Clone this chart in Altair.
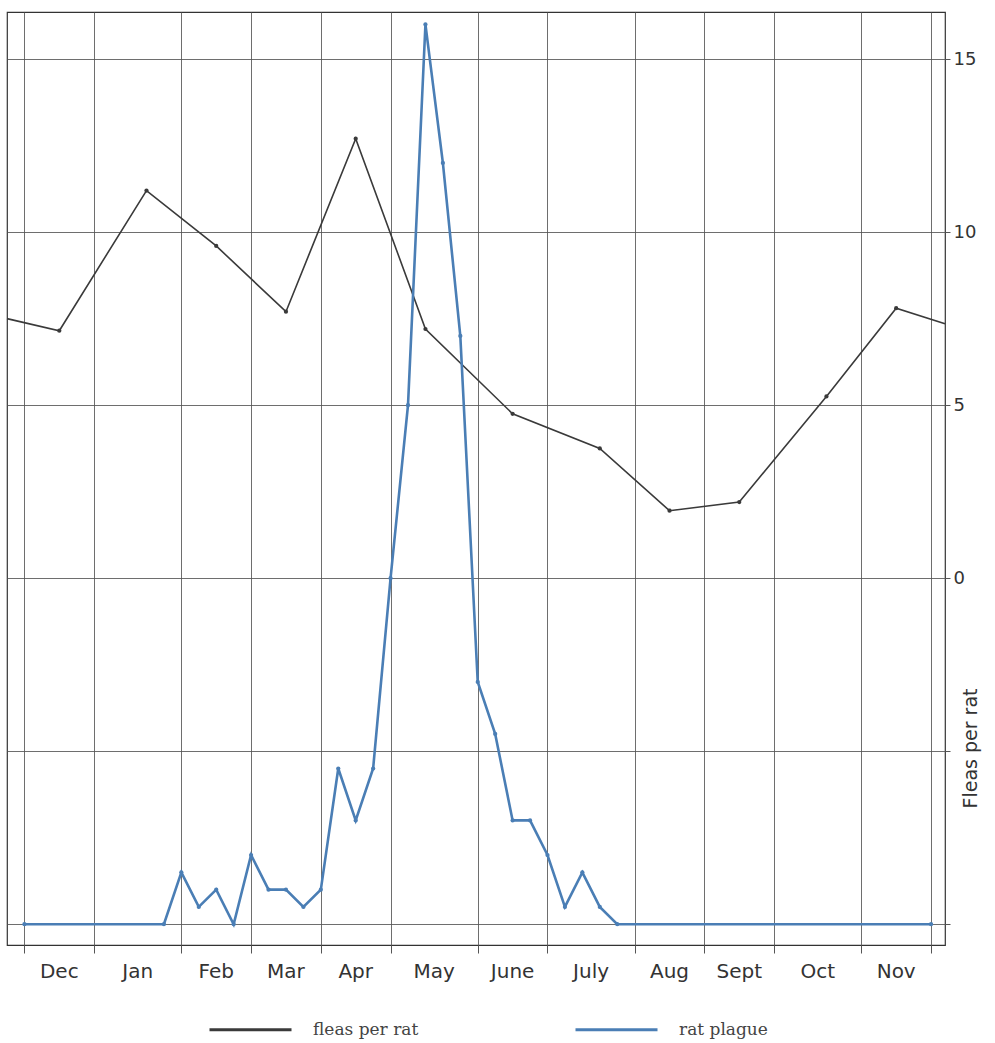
import altair as alt
import pandas as pd

# ---- data ----
month_names = ["Dec", "Jan", "Feb", "Mar", "Apr", "May", "June", "July", "Aug", "Sept", "Oct", "Nov"]
month_bounds = [0, 4, 9, 13, 17, 21, 26, 30, 35, 39, 43, 48, 52]   # week at which each month starts

flea_weeks = [-1, 2, 7, 11, 15, 19, 23, 28, 33, 37, 41, 46, 50, 52.8]
fleas_per_rat = [7.5, 7.15, 11.2, 9.6, 7.7, 12.7, 7.2, 4.75, 3.75, 1.95, 2.2, 5.25, 7.8, 7.35]

plague_weeks = [0] + list(range(8, 35)) + [52]
rat_plague = [0, 0, 3, 1, 2, 0, 4, 2, 2, 1, 2, 9, 6, 9, 20, 30, 52, 44,
              34, 14, 11, 6, 6, 4, 1, 3, 1, 0, 0]

flea_ticks = [-10, -5, 0, 5, 10, 15]

BLACK = "#3a3a3a"
BLUE = "#4a7eb5"
GRID = "#555555"
SANS = "DejaVu Sans"
SERIF = "DejaVu Serif"

flea_df = pd.DataFrame({"week": flea_weeks, "value": fleas_per_rat, "series": "fleas per rat"})
plague_df = pd.DataFrame({"week": plague_weeks, "value": rat_plague, "series": "rat plague"})
months_df = pd.DataFrame({"month": month_names, "start": month_bounds[:-1], "end": month_bounds[1:]})

x_scale = alt.Scale(domain=[-1, 52.8], nice=False, zero=False)

color = alt.Color(
    "series:N",
    scale=alt.Scale(domain=["fleas per rat", "rat plague"], range=[BLACK, BLUE]),
    legend=alt.Legend(
        title=None, orient="none", legendX=201, legendY=975, direction="horizontal",
        symbolType="stroke", symbolSize=6724, symbolStrokeWidth=3,
        labelFont=SERIF, labelFontSize=17, labelColor="#444444",
        labelOffset=20, columnPadding=150,
    ),
)

x_main = alt.X(
    "week:Q", scale=x_scale, title=None,
    axis=alt.Axis(values=month_bounds, labels=False, grid=True, gridColor=GRID, gridWidth=1,
                  gridOpacity=0.85, ticks=True, tickSize=8, tickColor=GRID, domain=False),
)

flea_y = alt.Y(
    "value:Q",
    scale=alt.Scale(domain=[-10.6, 16.36], nice=False, zero=False),
    axis=alt.Axis(
        orient="right", values=flea_ticks, labelExpr="datum.value >= 0 ? datum.label : ''",
        grid=True, gridColor=GRID, gridWidth=1, gridOpacity=0.85,
        tickSize=5, tickColor=GRID, domain=False,
        labelFont=SANS, labelFontSize=18, labelColor="#333333", labelPadding=3,
        title="Fleas per rat", titleFont=SANS, titleFontSize=19, titleFontWeight="normal",
        titleColor="#333333", titleAngle=270, titleX=25, titleY=736,
        titleAlign="center", titleBaseline="middle",
    ),
)

fleas_line = alt.Chart(flea_df).mark_line(strokeWidth=1.6).encode(x=x_main, y=flea_y, color=color)
fleas_pts = (
    alt.Chart(flea_df)
    .transform_filter("datum.week >= 0 && datum.week <= 52")
    .mark_point(filled=True, size=18, opacity=1)
    .encode(x=alt.X("week:Q", title=None), y=alt.Y("value:Q"), color=alt.value(BLACK))
)
fleas = alt.layer(fleas_line, fleas_pts)

plague_y = alt.Y("value:Q", scale=alt.Scale(domain=[-1.2, 52.72], nice=False, zero=False), axis=None)
plague_line = alt.Chart(plague_df).mark_line(strokeWidth=2.6).encode(
    x=alt.X("week:Q", title=None), y=plague_y, color=color)
plague_pts = alt.Chart(plague_df).mark_point(filled=True, size=18, opacity=1).encode(
    x=alt.X("week:Q", title=None), y=alt.Y("value:Q"), color=alt.value(BLUE))
plague = alt.layer(plague_line, plague_pts)

month_text = (
    alt.Chart(months_df)
    .transform_calculate(mid="(datum.start + datum.end) / 2")
    .mark_text(font=SANS, fontSize=20, color="#333333", baseline="middle", align="center")
    .encode(x=alt.X("mid:Q", title=None), y=alt.value(960), text="month:N")
)

chart = (
    alt.layer(fleas, plague, month_text)
    .resolve_scale(y="independent")
    .properties(
        width=938, height=933,
        padding={"left": 7, "top": 12, "right": 50, "bottom": 98},
        autosize=alt.AutoSizeParams(type="none"),
        background="white",
    )
    .configure_view(stroke="#333333", strokeWidth=1.2)
)

chart.save("out.html", embed_options={"renderer": "svg", "actions": False})
